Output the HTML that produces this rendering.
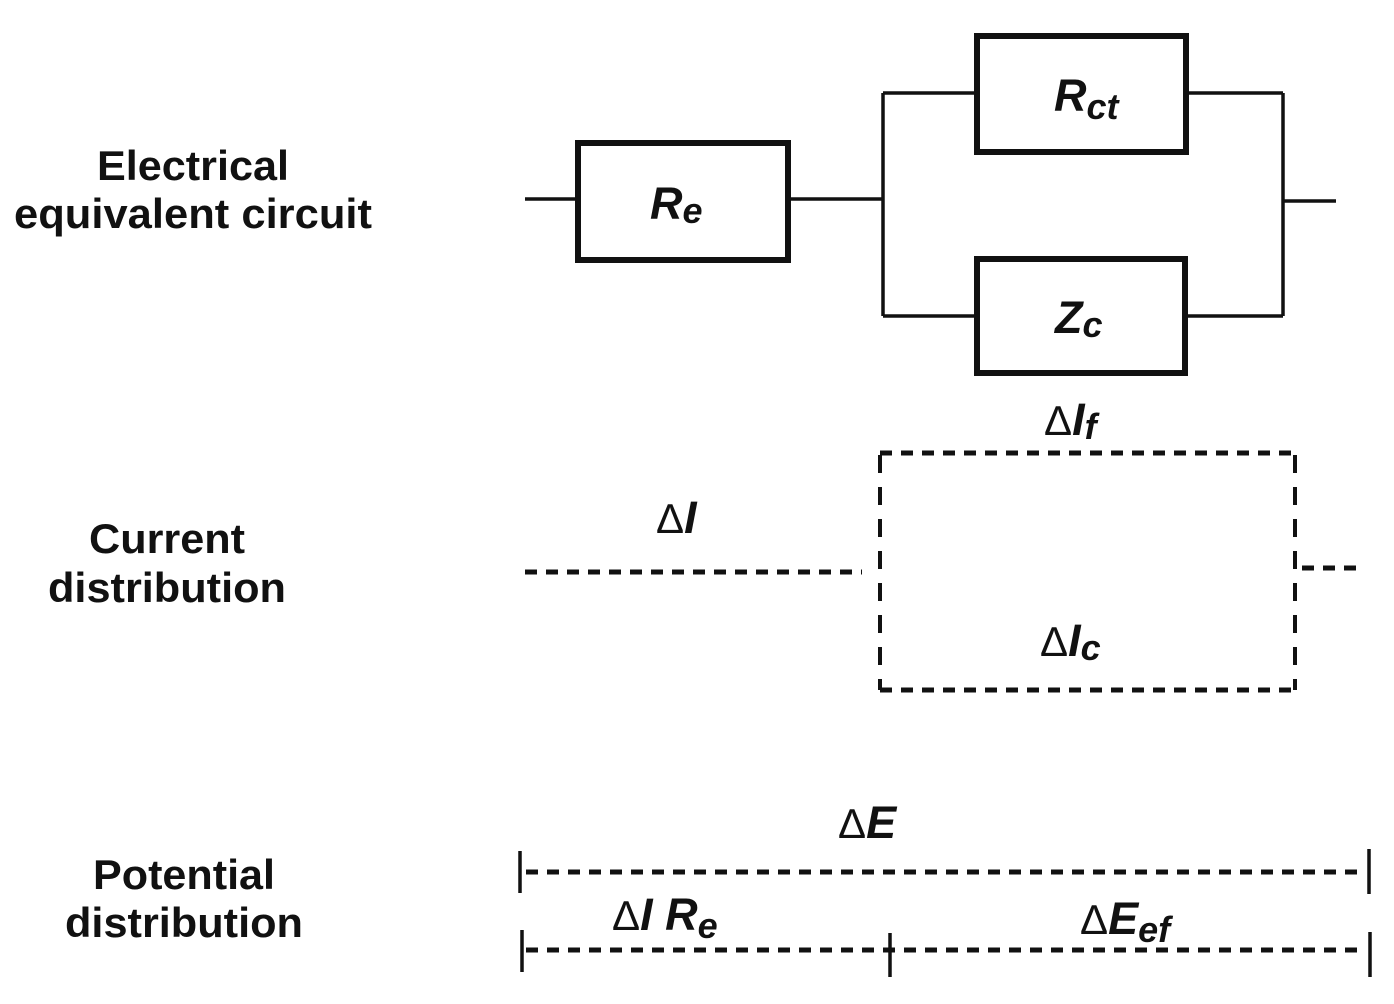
<!DOCTYPE html>
<html><head><meta charset="utf-8"><style>
html,body{margin:0;padding:0;background:#fff;}
svg{display:block;}
text{font-family:"Liberation Sans",Arial,sans-serif;fill:#111;}
.l{font-weight:bold;font-size:42px;}
.m{font-weight:bold;font-style:italic;font-size:45px;}
.s{font-weight:bold;font-style:italic;font-size:36px;}
.d{font-weight:normal;font-style:normal;font-size:42px;}
</style></head><body>
<svg width="1394" height="1004" viewBox="0 0 1394 1004" xmlns="http://www.w3.org/2000/svg">
<g stroke="#111" fill="none">
<g stroke-width="3.5">
<line x1="525" y1="199" x2="578" y2="199"/>
<line x1="788" y1="199" x2="883" y2="199"/>
<line x1="883" y1="93" x2="883" y2="316"/>
<line x1="883" y1="93" x2="977" y2="93"/>
<line x1="1186" y1="93" x2="1283" y2="93"/>
<line x1="883" y1="316" x2="977" y2="316"/>
<line x1="1185" y1="316" x2="1283" y2="316"/>
<line x1="1283" y1="93" x2="1283" y2="316"/>
<line x1="1283" y1="201" x2="1336" y2="201"/>
</g>
<g stroke-width="6">
<rect x="578" y="143" width="210" height="117"/>
<rect x="977" y="36" width="209" height="116"/>
<rect x="977" y="259" width="208" height="114"/>
</g>
<g stroke-width="5" stroke-dasharray="12 9">
<line x1="525" y1="572" x2="862" y2="572"/>
<line x1="1302" y1="568" x2="1356" y2="568"/>
<line x1="880" y1="453" x2="1295" y2="453"/>
<line x1="880" y1="690" x2="1295" y2="690"/>
</g>
<g stroke-width="4" stroke-dasharray="18 14">
<line x1="880" y1="455" x2="880" y2="690"/>
<line x1="1295" y1="455" x2="1295" y2="690"/>
</g>
<g stroke-width="5" stroke-dasharray="12 9">
<line x1="526" y1="872" x2="1366" y2="872"/>
<line x1="526" y1="950" x2="1366" y2="950"/>
</g>
<g stroke-width="3.5">
<line x1="520" y1="851" x2="520" y2="893"/>
<line x1="1369" y1="849" x2="1369" y2="894"/>
<line x1="522" y1="930" x2="522" y2="972"/>
<line x1="890" y1="933" x2="890" y2="977"/>
<line x1="1370" y1="932" x2="1370" y2="977"/>
</g>
</g>
<text class="l" x="193" y="180" text-anchor="middle" textLength="192" lengthAdjust="spacingAndGlyphs">Electrical</text>
<text class="l" x="193" y="228" text-anchor="middle" textLength="358" lengthAdjust="spacingAndGlyphs">equivalent circuit</text>
<text class="l" x="167" y="553" text-anchor="middle" textLength="156" lengthAdjust="spacingAndGlyphs">Current</text>
<text class="l" x="167" y="602" text-anchor="middle" textLength="238" lengthAdjust="spacingAndGlyphs">distribution</text>
<text class="l" x="184" y="889" text-anchor="middle" textLength="182" lengthAdjust="spacingAndGlyphs">Potential</text>
<text class="l" x="184" y="937" text-anchor="middle" textLength="238" lengthAdjust="spacingAndGlyphs">distribution</text>
<text class="m" x="650" y="219">R<tspan class="s" dy="4">e</tspan></text>
<text class="m" x="1054" y="111">R<tspan class="s" dy="8">ct</tspan></text>
<text class="m" x="1055" y="333">Z<tspan class="s" dy="4">c</tspan></text>
<text class="m" x="1044" y="435"><tspan class="d">Δ</tspan>I<tspan class="s" dy="4">f</tspan></text>
<text class="m" x="656" y="533"><tspan class="d">Δ</tspan>I</text>
<text class="m" x="1040" y="656"><tspan class="d">Δ</tspan>I<tspan class="s" dy="4">c</tspan></text>
<text class="m" x="838" y="838"><tspan class="d">Δ</tspan>E</text>
<text class="m" x="612" y="930"><tspan class="d">Δ</tspan>I R<tspan class="s" dy="8">e</tspan></text>
<text class="m" x="1080" y="934"><tspan class="d">Δ</tspan>E<tspan class="s" dy="8">ef</tspan></text>
</svg>
</body></html>
